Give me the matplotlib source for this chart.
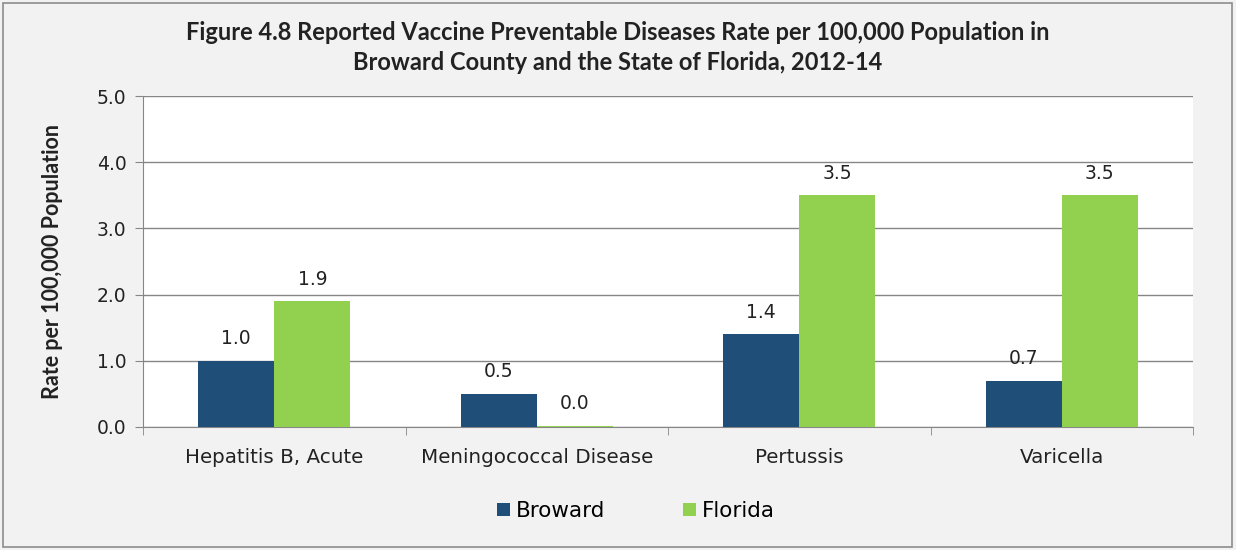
import numpy as np
import matplotlib.pyplot as plt
from matplotlib.patches import Rectangle

# data
diseases = ['Hepatitis B, Acute', 'Meningococcal Disease', 'Pertussis', 'Varicella']
broward = np.array([1.0, 0.5, 1.4, 0.7])
florida = np.array([1.9, 0.02, 3.5, 3.5])
yticks = [0.0, 1.0, 2.0, 3.0, 4.0, 5.0]

plt.rcParams['font.family'] = ['DejaVu Sans']

fig = plt.figure(figsize=(12.36, 5.5), dpi=100, facecolor='#f2f2f2')
ax = fig.add_axes([143 / 1236, 1 - 427 / 550, (1193 - 143) / 1236, (427 - 96) / 550])
ax.set_facecolor('white')

# outer border of the chart box
fig.patches.append(Rectangle((3 / 1236, 3 / 550), 1229 / 1236, 544 / 550,
                             transform=fig.transFigure, fill=False,
                             edgecolor='#8c8c8c', linewidth=1.2))

x = np.arange(len(diseases))
w = 0.29
b1 = ax.bar(x - w / 2, broward, width=w, color='#1f4e79', label='Broward', zorder=3)
b2 = ax.bar(x + w / 2, florida, width=w, color='#92d050', label='Florida', zorder=3)

# value labels
for bars, vals in [(b1, broward), (b2, florida)]:
    for r, v in zip(bars, vals):
        ax.annotate(f'{v:.1f}', (r.get_x() + r.get_width() / 2, r.get_height()),
                    xytext=(0, 9), textcoords='offset points',
                    ha='center', va='bottom', fontsize=13.5, color='#222222', zorder=4)

ax.set_xlim(-0.5, len(diseases) - 0.5)
ax.set_ylim(0, 5)
ax.set_yticks(yticks)
ax.set_yticklabels([f'{t:.1f}' for t in yticks], fontsize=13.5, color='#222222')
ax.set_xticks(x)
ax.set_xticklabels(diseases, fontsize=14.3, color='#222222')
ax.tick_params(axis='x', length=0, pad=15)
ax.set_xticks(np.arange(-0.5, len(diseases)), minor=True)
ax.tick_params(axis='x', which='minor', length=6, color='#868686', direction='out')
ax.tick_params(axis='y', length=6, color='#868686', pad=6)

ax.grid(axis='y', color='#868686', linewidth=1, zorder=0)
for s in ['top', 'right']:
    ax.spines[s].set_visible(False)
for s in ['left', 'bottom']:
    ax.spines[s].set_color('#868686')

ax.set_ylabel('Rate per 100,000 Population', fontsize=15.5, fontweight='bold',
              color='#222222', labelpad=24, family='Lato')

fig.text(0.5, 1 - 33 / 550, 'Figure 4.8 Reported Vaccine Preventable Diseases Rate per 100,000 Population in',
         ha='center', va='center', fontsize=17, fontweight='bold', color='#222222', family='Lato')
fig.text(0.5, 1 - 63 / 550, 'Broward County and the State of Florida, 2012-14',
         ha='center', va='center', fontsize=17, fontweight='bold', color='#222222', family='Lato')

fig.legend(handles=[b1, b2], loc='center', bbox_to_anchor=(636 / 1236, 1 - 511 / 550),
           ncol=2, frameon=False, fontsize=15.5, handlelength=0.6, handleheight=0.6,
           columnspacing=3.6, handletextpad=0.3)

fig.savefig('out.png', dpi=100, facecolor=fig.get_facecolor())
